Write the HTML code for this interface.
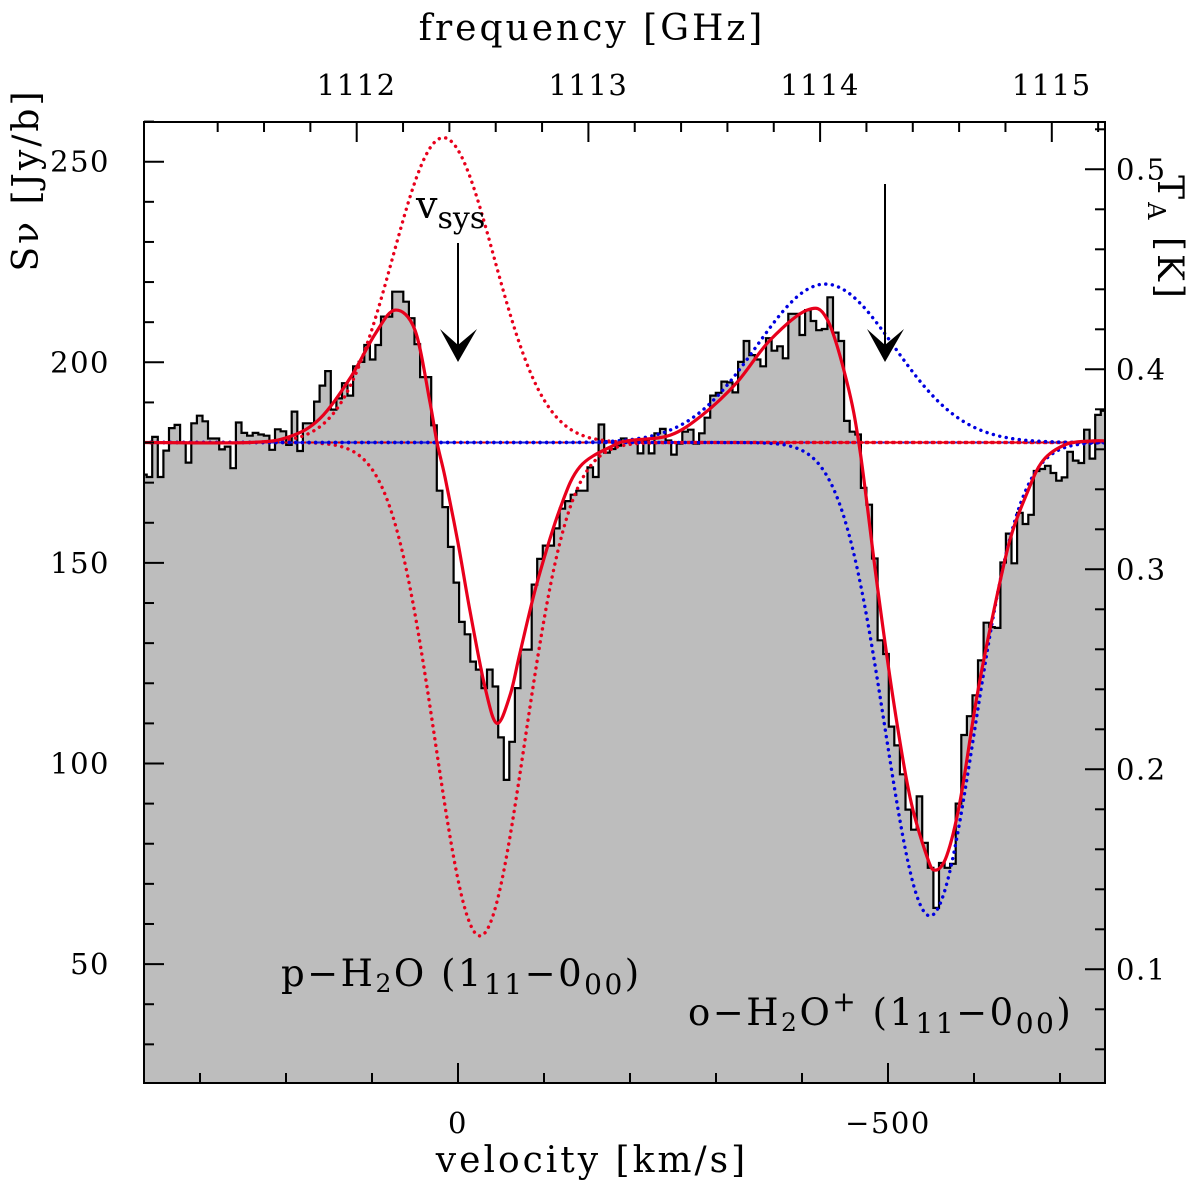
<!DOCTYPE html>
<html><head><meta charset="utf-8">
<style>
html,body{margin:0;padding:0;background:#fff;}
svg{display:block;font-family:"DejaVu Serif","Liberation Serif",serif;}
</style></head>
<body>
<svg id="chart" width="1200" height="1182" viewBox="0 0 1200 1182" xmlns="http://www.w3.org/2000/svg">
<defs><clipPath id="plotclip"><rect x="144" y="122" width="961" height="961"/></clipPath></defs>
<g id="plot" clip-path="url(#plotclip)"></g>
<g id="axes"></g>
<g id="annot"></g>
</svg>
<script>
// ---- data ----
const channelStartVel = 368.5;   // km/s, left edge of first channel
const channelWidthVel = -6.488;  // km/s per channel
const fluxValues = [172,
171.4,181.4,171.4,178,183.6,184.4,180,175,184.8,186.7,185.3,181,181,178.3,179,173.6,185,182.4,181.7,182.4,182,181.7,178.2,183.3,182.8,179.4,187.7,177.9,184.8,184.8,190.2,194.2,197.8,188.2,191,194.8,191.7,199,200.1,204.3,200.7,204.3,211.4,211.4,
217.6,217.6,215.1,211.0,204.5,196.3,196.3,184.3,168.0,163.9,154.0,145.1,135.3,132.2,125.4,123.4,118.8,123.4,119.2,106.5,95.9,105.4,118.8,128.4,128.4,144.6,151.0,154.3,154.3,158.6,163.5,165.4,167.0,168.0,168.0,173.8,171.4,184.5,177.5,178.4,179.2,181.0,
180.5,180.5,177.3,180.5,177.3,182.3,183.4,180.5,177,179.7,182.7,183.2,179.7,182.3,186.2,191.7,192.4,195.2,195,192.5,200.1,205.3,201.8,200.7,199,206,202.9,204,201,212.1,212.1,206.8,213,210.3,208,208.3,216.2,207.4,205.3,185.4,182.7,182,168.7,164.5,
151.1,130.7,127.3,109.2,104.5,97.3,88.5,83.5,91.8,80.2,74.0,64,75.2,74.0,75.0,90.0,107.1,111.8,117.0,125.7,135.1,134.0,133.8,150.1,157.3,149.9,162.5,159.7,162.0,172.9,173.4,174.2,172.4,170.5,171.3,177.7,175.5,174.9,183.2,176.0,186.9,187.9];
const fitVel = [365.1,241.9,195.3,160.5,125.6,96.5,73.3,50,32.6,24.4,15.1,0,-14,-31.4,-45.3,-60.5,-72.1,-91.9,-118.6,-141.9,-180.2,-200,-246.5,-284.9,-324.4,-362.8,-405.8,-429.1,-452.3,-467.4,-486.9,-505.8,-525.6,-545,-554.7,-568.3,-583.7,-603.1,-622.1,-641.9,-661.3,-680.2,-707.8,-738.4,-752.3];
const fitFlux = [180,180,181.5,186,196,207,213,208,190,180,171.4,155,138,119,110,117,127.6,145,163.5,174,179.2,180.5,181.8,187,195,205.5,213,210.8,195,178,145.4,116.4,91.6,77,73.4,77,90.5,116.4,137.1,155.8,167.2,175.5,179.6,180.4,180.4];
const continuum = 180;
const redCenters = [17,-25.6];
const redAmps = [76,-123];
const redSigmas = [59,52];
const blueCenters = [-427,-548.8];
const blueAmps = [39.5,-118];
const blueSigmas = [80,52];
const leftTicks = [50,100,150,200,250];
const rightTicks = [0.1,0.2,0.3,0.4,0.5];
const freqTicks = [1112,1113,1114,1115];
const velTicks = [0,-500];

// ---- scales ----
const X0=144,X1=1105,Y0=122,Y1=1083;
const xv = v => 458 - 0.86*v;
const yS = s => 161.7 + (250 - s)*4.012;
const yT = t => 169.3 + (0.5 - t)*2000;
const xf = f => 356.7 + (f - 1112)*231.7;
const NS='http://www.w3.org/2000/svg';
function mk(tag, attrs, parent){const e=document.createElementNS(NS,tag);for(const k in attrs)e.setAttribute(k,attrs[k]);parent.appendChild(e);return e;}
const plot=document.getElementById('plot'), axes=document.getElementById('axes'), annot=document.getElementById('annot');

let d='';
fluxValues.forEach((s,i)=>{
  const xa=xv(channelStartVel+i*channelWidthVel), xb=xv(channelStartVel+(i+1)*channelWidthVel), y=yS(s);
  d += (i===0?'M':'L')+xa.toFixed(1)+','+y.toFixed(1)+'L'+xb.toFixed(1)+','+y.toFixed(1);
});
const lastX = xv(channelStartVel+fluxValues.length*channelWidthVel);
const firstX = xv(channelStartVel);
const fillEl = mk('path',{d:d+'L'+lastX.toFixed(1)+','+Y1+'L'+firstX.toFixed(1)+','+Y1+'Z',fill:'#bdbdbd',stroke:'none'},plot);


const histEl = mk('path',{d:d,fill:'none',stroke:'#000','stroke-width':2.2},plot);



const bl1 = mk('line',{x1:X0,x2:X1,y1:yS(continuum),y2:yS(continuum),stroke:'#2020d0','stroke-width':2,'stroke-dasharray':'5,4'},plot);


const bl2 = mk('line',{x1:X0,x2:X1,y1:yS(continuum),y2:yS(continuum),stroke:'#e00000','stroke-width':2,'stroke-dasharray':'4,5','stroke-dashoffset':4},plot);



function gaussPath(c,a,s){
  let p='';
  for(let px=X0;px<=X1;px+=2){const v=(458-px)/0.86;const val=continuum+a*Math.exp(-((v-c)*(v-c))/(2*s*s));p+=(px===X0?'M':'L')+px+','+yS(val).toFixed(1);}
  return p;
}
redCenters.forEach((c,i)=>{
  const e=mk('path',{d:gaussPath(c,redAmps[i],redSigmas[i]),fill:'none',stroke:'#e8001c','stroke-width':3.4,'stroke-dasharray':'0.1,6.5','stroke-linecap':'round'},plot);
  
  
});
blueCenters.forEach((c,i)=>{
  const e=mk('path',{d:gaussPath(c,blueAmps[i],blueSigmas[i]),fill:'none',stroke:'#0000e0','stroke-width':3.4,'stroke-dasharray':'0.1,6.5','stroke-linecap':'round'},plot);
  
  
});

const pts = fitVel.map((v,i)=>[xv(v),yS(fitFlux[i])]);
let fp='M'+pts[0][0].toFixed(1)+','+pts[0][1].toFixed(1);
for(let i=0;i<pts.length-1;i++){
  const p0=pts[Math.max(0,i-1)],p1=pts[i],p2=pts[i+1],p3=pts[Math.min(pts.length-1,i+2)];
  const c1=[p1[0]+(p2[0]-p0[0])/6,p1[1]+(p2[1]-p0[1])/6];
  const c2=[p2[0]-(p3[0]-p1[0])/6,p2[1]-(p3[1]-p1[1])/6];
  fp+='C'+c1[0].toFixed(1)+','+c1[1].toFixed(1)+' '+c2[0].toFixed(1)+','+c2[1].toFixed(1)+' '+p2[0].toFixed(1)+','+p2[1].toFixed(1);
}
const fitEl = mk('path',{d:fp,fill:'none',stroke:'#e8001c','stroke-width':3.2},plot);



const fr = mk('rect',{x:X0,y:Y0,width:X1-X0,height:Y1-Y0,fill:'none',stroke:'#000','stroke-width':2},axes);



function tick(x1,y1,x2,y2){const t=mk('line',{x1:x1,y1:y1,x2:x2,y2:y2,stroke:'#000','stroke-width':2},axes);}
function label(txt,x,y,name,anchor,size,ls){const t=mk('text',{x:x,y:y,'text-anchor':anchor||'middle','font-size':size||29,'letter-spacing':ls||0,fill:'#000'},axes);t.textContent=txt;return t;}

for(let s=30;s<=260;s+=10){const y=yS(s);const maj=(s%50===0);tick(X0,y,X0+(maj?20:10),y);}
leftTicks.forEach(s=>label(String(s),110,yS(s)+10,'left-tick-label','end',29,1.5));
for(let k=3;k<=27;k++){const t=k*0.02;const y=yT(t);if(y<Y0||y>Y1)continue;const maj=(k%5===0);tick(X1,y,X1-(maj?20:10),y);}
rightTicks.forEach(t=>label(t.toFixed(1),1116,yT(t)+10,'right-tick-label','start',29,1.5));
for(let v=300;v>=-700;v-=100){const x=xv(v);const maj=(v%500===0);tick(x,Y1,x,Y1-(maj?20:10));}
velTicks.forEach(v=>label(v===0?'0':'\u2212'+Math.abs(v),xv(v),1133,'bottom-tick-label','middle',29,1.5));
for(let k=0;k<=20;k++){const f=1111.4+k*0.2;const x=xf(f);if(x<X0||x>X1)continue;const maj=Math.abs(f-Math.round(f))<0.01;tick(x,Y0,x,Y0+(maj?20:10));}
freqTicks.forEach(f=>label(String(f),xf(f),95,'top-tick-label','middle',29,1.5));

label('frequency [GHz]',592,40,'top-axis-title','middle',36,3);
label('velocity [km/s]',592,1172,'bottom-axis-title','middle',36,3);
const yl=label('S\u03BD [Jy/b]',0,0,'left-axis-title','middle',36,3);
yl.setAttribute('transform','translate(38,180) rotate(-90)');
const yr=mk('text',{'font-size':36,'letter-spacing':3,'text-anchor':'middle',fill:'#000',transform:'translate(1158,238) rotate(90)'},axes);


yr.innerHTML='T<tspan font-size="24" dy="10">A</tspan><tspan dy="-10"> [K]</tspan>';

function arrow(x,ytop,name){
  const g=mk('g',{},annot);
  mk('line',{x1:x,y1:ytop,x2:x,y2:350,stroke:'#000','stroke-width':2},g);
  mk('path',{d:`M${x-18},${329} L${x},${362} L${x+19},${329} L${x},${345} Z`,fill:'#000'},g);
}
arrow(458,243,'vsys-arrow-p-h2o');
arrow(885,184,'vsys-arrow-o-h2o-plus');
const vs=mk('text',{x:416,y:218,'font-size':38,fill:'#000'},annot);


vs.innerHTML='v<tspan font-size="30" dy="10">sys</tspan>';
const l1=mk('text',{x:281,y:986,'font-size':37,'letter-spacing':2.5,fill:'#000'},annot);


l1.innerHTML='p\u2212H<tspan font-size="25" dy="6">2</tspan><tspan dy="-6">O  (1</tspan><tspan font-size="28" dy="8">11</tspan><tspan dy="-8">\u22120</tspan><tspan font-size="28" dy="8">00</tspan><tspan dy="-8">)</tspan>';
const l2=mk('text',{x:688,y:1025,'font-size':37,'letter-spacing':2.5,fill:'#000'},annot);


l2.innerHTML='o\u2212H<tspan font-size="25" dy="6">2</tspan><tspan dy="-6">O</tspan><tspan font-size="28" dy="-14">+</tspan><tspan dy="14">  (1</tspan><tspan font-size="28" dy="8">11</tspan><tspan dy="-8">\u22120</tspan><tspan font-size="28" dy="8">00</tspan><tspan dy="-8">)</tspan>';
</script>
</body></html>
